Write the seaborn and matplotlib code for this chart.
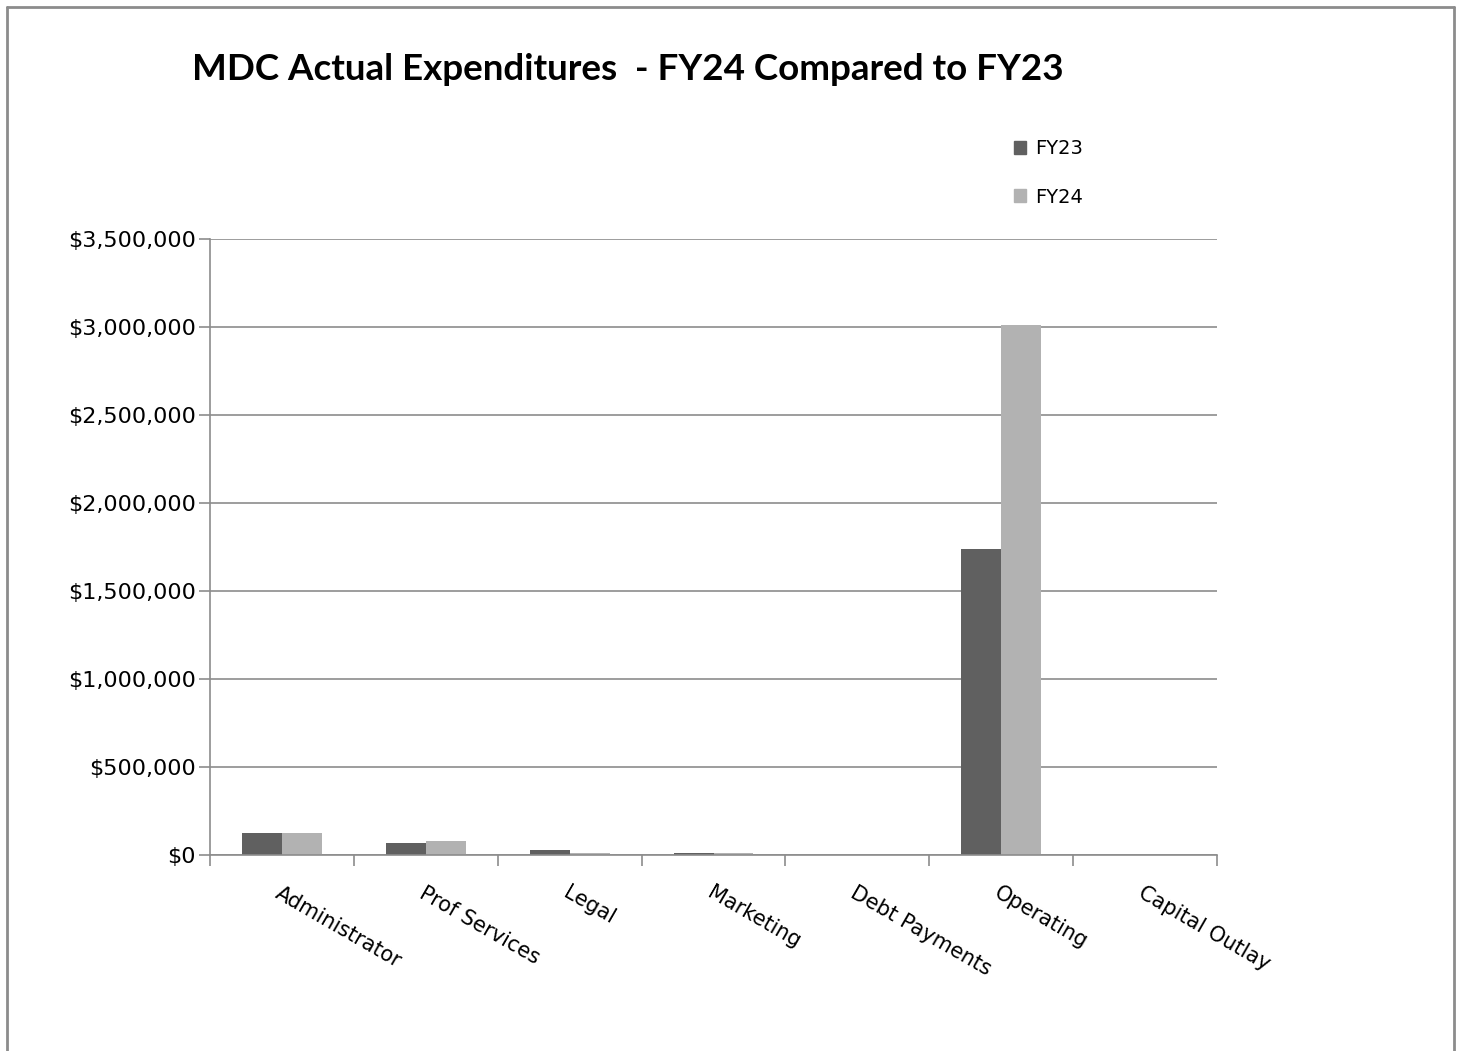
import pandas as pd
import matplotlib
matplotlib.use('Agg')
import matplotlib.pyplot as plt
import seaborn as sns
from matplotlib.ticker import FuncFormatter, FixedLocator
from matplotlib.lines import Line2D

categories = ['Administrator', 'Prof Services', 'Legal', 'Marketing',
              'Debt Payments', 'Operating', 'Capital Outlay']
fy23 = [125000, 68000, 26000, 14000, 0, 1737000, 0]
fy24 = [125000, 80000, 14000, 11000, 0, 3012000, 0]
years = ['FY23', 'FY24']

df = pd.DataFrame({'Category': categories * 2,
                   'Amount': fy23 + fy24,
                   'Year': [years[0]] * len(categories) + [years[1]] * len(categories)})

colors = ['#606060', '#b2b2b2']
grid_col = '#8c8c8c'

sns.set_style('white')
plt.rcParams['font.family'] = ['DejaVu Sans']

fig = plt.figure(figsize=(14.58, 10.51), dpi=100)
ax = fig.add_axes([210 / 1458, 1 - 855 / 1051, (1217 - 210) / 1458, (855 - 239) / 1051])

sns.barplot(data=df, x='Category', y='Amount', hue='Year', order=categories,
            palette=colors, width=0.556, saturation=1, linewidth=0, ax=ax, legend=True)

ax.set_xlim(-0.5, len(categories) - 0.5)
ax.set_ylim(0, 3500000)
ax.set_yticks(range(0, 3500001, 500000))
ax.yaxis.set_major_formatter(FuncFormatter(lambda v, p: f"${v:,.0f}"))
ax.grid(axis='y', color=grid_col, linewidth=1.2)
ax.set_axisbelow(True)
for s in ['top', 'right']:
    ax.spines[s].set_visible(False)
for s in ['left', 'bottom']:
    ax.spines[s].set_color(grid_col)
    ax.spines[s].set_linewidth(1.2)

ax.set_xlabel('')
ax.set_ylabel('')
ax.tick_params(axis='y', left=True, length=8, color=grid_col, width=1.2,
               labelsize=16, pad=2, labelcolor='black')
ax.tick_params(axis='x', which='major', length=0, labelsize=15, pad=20, labelcolor='black')
ax.xaxis.set_minor_locator(FixedLocator([i - 0.5 for i in range(len(categories) + 1)]))
ax.tick_params(axis='x', which='minor', bottom=True, length=8, color=grid_col, width=1.2)
for lab in ax.get_xticklabels():
    lab.set_rotation(-30)
    lab.set_rotation_mode('anchor')
    lab.set_ha('left')
    lab.set_va('top')

handles = [plt.Rectangle((0, 0), 1, 1, color=c) for c in colors]
ax.legend(handles, years, loc='upper left', frameon=False, fontsize=14, labelcolor='black',
          bbox_to_anchor=(996 / 1458, 1 - 122 / 1051), bbox_transform=fig.transFigure,
          handlelength=0.65, handleheight=0.65, handletextpad=0.45, labelspacing=1.5)

fig.text(628 / 1458, 1 - 70 / 1051, 'MDC Actual Expenditures  - FY24 Compared to FY23',
         ha='center', va='center', fontsize=26.5, fontweight='bold',
         family=['Lato', 'DejaVu Sans'], color='black')

# outer chart border
for xs, ys in [([7, 7], [7, 1051]), ([1454, 1454], [7, 1051]), ([7, 1454], [7, 7])]:
    fig.add_artist(Line2D([x / 1458 for x in xs], [1 - y / 1051 for y in ys],
                          color=grid_col, linewidth=2, transform=fig.transFigure))

fig.savefig('out.png', dpi=100, facecolor='white')
